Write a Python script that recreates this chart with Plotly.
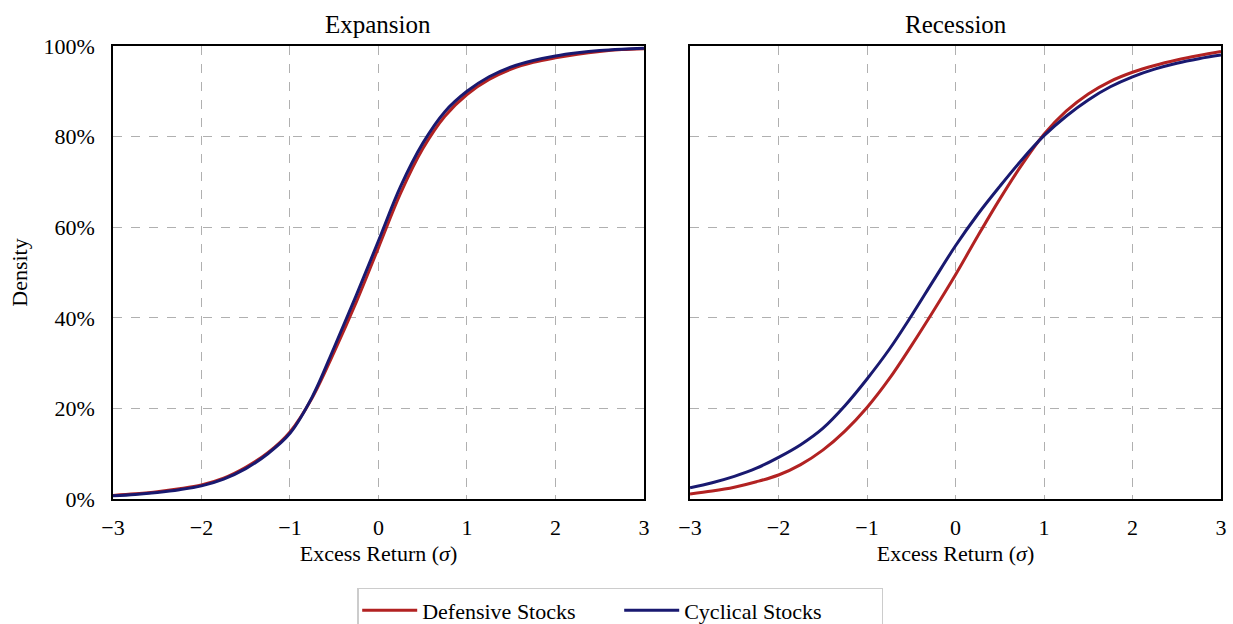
import plotly.graph_objects as go
from plotly.subplots import make_subplots

# Excess return grid (in standard deviations)
x_sigma = [-3, -2.75, -2.5, -2.25, -2, -1.75, -1.5, -1.25, -1, -0.75, -0.5, -0.25, 0,
           0.25, 0.5, 0.75, 1, 1.25, 1.5, 1.75, 2, 2.25, 2.5, 2.75, 3]

# Cumulative share of observations (%) by regime
expansion_defensive = [0.8, 1.15, 1.6, 2.25, 3.1, 4.6, 7.0, 10.2, 14.8, 22.3, 32.5, 43.5, 55.5,
                       67.5, 77.3, 84.5, 89.3, 92.6, 94.9, 96.4, 97.4, 98.2, 98.8, 99.2, 99.4]
expansion_cyclical = [0.7, 1.0, 1.45, 2.05, 2.9, 4.4, 6.7, 10.0, 14.5, 22.5, 33.5, 45.0, 57.0,
                      69.0, 78.5, 85.5, 90.0, 93.2, 95.4, 96.8, 97.8, 98.5, 99.0, 99.3, 99.5]
recession_defensive = [1.1, 1.75, 2.6, 3.8, 5.3, 7.6, 10.8, 15.0, 20.2, 26.5, 33.8, 41.5, 49.5,
                       58.0, 66.2, 73.8, 80.5, 85.6, 89.4, 92.2, 94.2, 95.7, 96.9, 97.9, 98.8]
recession_cyclical = [2.5, 3.6, 5.0, 6.8, 9.2, 12.0, 15.6, 20.6, 26.5, 33.0, 40.4, 48.2, 55.9,
                      62.8, 69.0, 74.9, 80.2, 84.5, 88.1, 91.0, 93.2, 94.9, 96.2, 97.2, 98.0]

panel_titles = ["Expansion", "Recession"]
series_names = ["Defensive Stocks", "Cyclical Stocks"]
x_ticks = [-3, -2, -1, 0, 1, 2, 3]
y_ticks = [0, 20, 40, 60, 80, 100]
y_tick_text = [f"{v}%" for v in y_ticks]

RED = "#B22222"
NAVY = "#191970"
FONT = "Liberation Serif"
SIZE = 22

fig = make_subplots(rows=1, cols=2, shared_yaxes=True,
                    horizontal_spacing=0.0416, subplot_titles=panel_titles)

panels = [(expansion_defensive, expansion_cyclical),
          (recession_defensive, recession_cyclical)]
for col, (defensive, cyclical) in enumerate(panels, start=1):
    for name, values, color in [(series_names[0], defensive, RED),
                                (series_names[1], cyclical, NAVY)]:
        fig.add_trace(go.Scatter(
            x=x_sigma, y=values, mode="lines", name=name,
            line=dict(color=color, width=3, shape="spline", smoothing=1.0),
            showlegend=(col == 1), legendgroup=name,
        ), row=1, col=col)

axis_common = dict(
    showline=True, linecolor="black", linewidth=1.5, mirror=True,
    showgrid=True, gridcolor="#b0b0b0", griddash="dash", gridwidth=1,
    ticks="inside", ticklen=4, tickcolor="#b0b0b0", zeroline=False,
    tickfont=dict(family=FONT, size=SIZE, color="black"),
)

for col in (1, 2):
    fig.update_xaxes(range=[-3, 3], tickvals=x_ticks, ticklabelstandoff=8,
                     title=dict(text="Excess Return (<i>σ</i>)",
                                font=dict(family=FONT, size=SIZE, color="black"),
                                standoff=6),
                     row=1, col=col, **axis_common)
    fig.update_yaxes(range=[0, 100], tickvals=y_ticks, ticktext=y_tick_text,
                     row=1, col=col, **axis_common)

fig.update_yaxes(title=dict(text="Density",
                            font=dict(family=FONT, size=SIZE, color="black"),
                            standoff=10),
                 ticklabelstandoff=12, row=1, col=1)
fig.update_yaxes(showticklabels=False, row=1, col=2)

for ann in fig.layout.annotations:
    ann.font = dict(family=FONT, size=25, color="black")
    ann.yshift = 6

fig.update_layout(
    width=1233, height=624,
    margin=dict(l=113, r=12, t=46, b=125, autoexpand=False),
    plot_bgcolor="white", paper_bgcolor="white",
    font=dict(family=FONT, size=SIZE, color="black"),
    legend=dict(orientation="h", xref="container", yref="container",
                x=0.503, xanchor="center", y=0.0577, yanchor="top",
                bordercolor="#cccccc", borderwidth=1.5,
                font=dict(family=FONT, size=SIZE, color="black"),
                itemwidth=55, entrywidthmode="pixels", entrywidth=192),
)

fig.write_html("out.html")
